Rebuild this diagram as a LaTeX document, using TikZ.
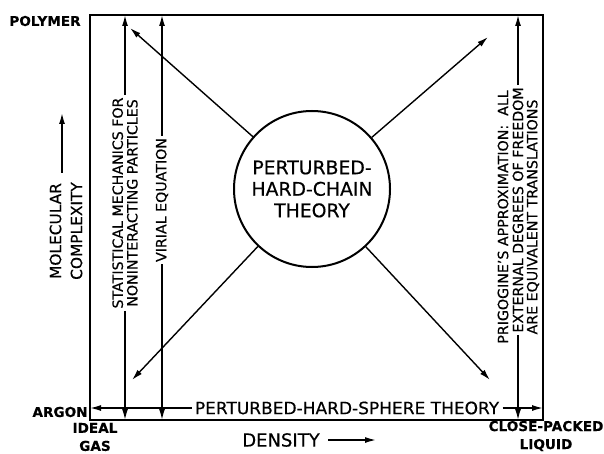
\documentclass[tikz,border=0pt]{standalone}
\usepackage{fontspec}
\setmainfont[FakeBold=0.4]{DejaVu Sans}
\usetikzlibrary{arrows.meta}

\tikzset{
  frame/.style={line width=1.4pt},
  arr/.style={line width=0.7pt, -{Latex[length=5.5pt,width=3pt]}},
  vlab/.style={rotate=90, inner sep=1pt, align=center, font=\fontsize{7.1}{7.3}\selectfont},
  hlab/.style={inner sep=1.5pt, font=\fontsize{8.5}{10}\selectfont},
  endlab/.style={inner sep=0pt, align=center, font=\bfseries\fontsize{6.8}{9}\selectfont},
  axlab/.style={inner sep=0pt, align=center, font=\fontsize{7.7}{10.5}\selectfont},
}

\begin{document}
\begin{tikzpicture}[x=0.5pt, y=-0.5pt]
  \useasboundingbox (0,0) rectangle (604,454);
  % the square of states
  \draw[frame] (90,15) rectangle (543,420);

  % corner labels
  \node[endlab, anchor=east] (poly) at (81,21) {POLYMER};
  \node[endlab, anchor=east] (argon) at (88,412) {ARGON};
  \node[endlab] (ideal) at (95,437) {IDEAL\\GAS};
  \node[endlab] (close) at (546,436) {CLOSE-PACKED\\LIQUID};

  % axes
  \node[axlab, rotate=90] (mc) at (66,231) {MOLECULAR\\COMPLEXITY};
  \coordinate (mcB) at (62,173);
  \coordinate (mcT) at (62,113);
  \draw[arr] (mcB) -- (mcT);
  \node[axlab, font=\fontsize{9}{10}\selectfont] (den) at (281,440) {DENSITY};
  \coordinate (denR) at (376,440);
  \draw[arr, shorten <=4pt] (den.east) -- (denR);

  % centre
  \node[draw, circle, line width=1pt, minimum size=78pt, inner sep=0pt, align=center,
        font=\fontsize{9.4}{10.75}\selectfont] (pht) at (312,189) {PERTURBED-\\HARD-CHAIN\\THEORY};
  \coordinate (ul) at (130,28);
  \coordinate (ur) at (488,37);
  \coordinate (ll) at (132,380);
  \coordinate (lr) at (490,380);
  \foreach \c in {ul,ur,ll,lr}
    \draw[arr] (pht) -- (\c);

  % statistical mechanics
  \node[vlab] (sm) at (125,203) {STATISTICAL MECHANICS FOR\\NONINTERACTING PARTICLES};
  \coordinate (smT) at (125,15);
  \coordinate (smB) at (125,420);
  \draw[arr] (sm.east) -- (smT);
  \draw[arr] (sm.west) -- (smB);

  % virial
  \node[vlab] (vir) at (162,200) {VIRIAL EQUATION};
  \coordinate (virT) at (162,15);
  \coordinate (virB) at (162,420);
  \draw[arr] (vir.east) -- (virT);
  \draw[arr] (vir.west) -- (virB);

  % prigogine
  \node[vlab] (prig) at (518,210) {EXTERNAL DEGREES OF FREEDOM};
  \node[vlab] (prigA) at (503,217) {PRIGOGINE'S APPROXIMATION:\ \ ALL};
  \node[vlab] (prigC) at (533,217) {ARE EQUIVALENT TRANSLATIONS};
  \coordinate (prigT) at (518,15);
  \coordinate (prigB) at (518,420);
  \draw[arr] (prig.east) -- (prigT);
  \draw[arr] (prig.west) -- (prigB);

  % perturbed hard sphere
  \node[hlab] (phs) at (347,408) {PERTURBED-HARD-SPHERE THEORY};
  \coordinate (phsL) at (90,408);
  \coordinate (phsR) at (543,408);
  \draw[arr] (phs.west) -- (phsL);
  \draw[arr] (phs.east) -- (phsR);
\end{tikzpicture}
\end{document}
